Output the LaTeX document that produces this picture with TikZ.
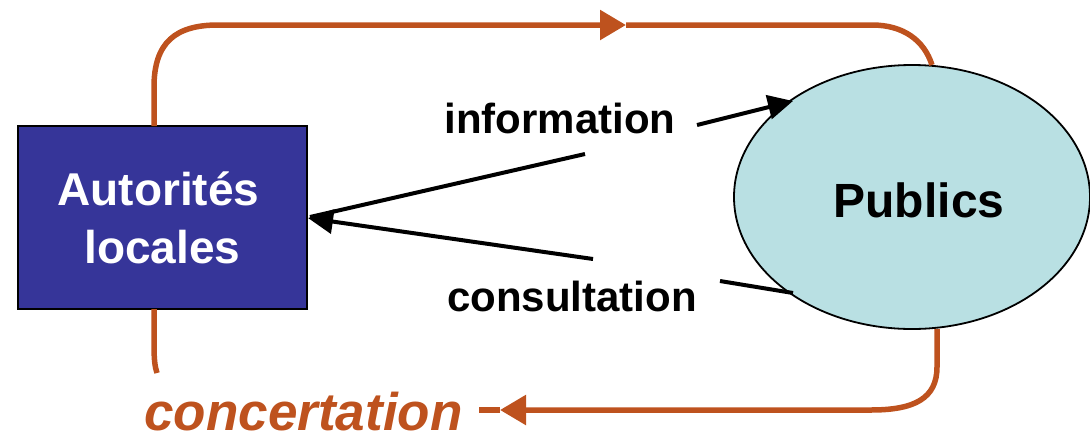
\documentclass[tikz,border=0pt]{standalone}
\usepackage{fontspec}
\setmainfont{Liberation Sans}
\usetikzlibrary{arrows.meta,shapes.geometric}
\definecolor{authblue}{RGB}{54,53,153}
\definecolor{pubcyan}{RGB}{185,224,227}
\definecolor{concorange}{RGB}{190,82,30}
\begin{document}
\begin{tikzpicture}[x=1pt,y=-1pt,
  authbox/.style={draw=black, line width=1.6pt, fill=authblue, minimum width=289pt, minimum height=183pt, inner sep=0pt, text=white, font=\bfseries\fontsize{46}{58}\selectfont, align=center},
  pubell/.style={ellipse, draw=black, line width=1.8pt, fill=pubcyan, minimum width=356pt, minimum height=264pt, inner sep=0pt},
  publbl/.style={font=\bfseries\fontsize{48}{58}\selectfont},
  flowlbl/.style={font=\bfseries\fontsize{42}{50}\selectfont, inner sep=0pt, anchor=base},
  conclbl/.style={font=\bfseries\itshape\fontsize{53}{60}\selectfont, text=concorange, anchor=base, inner sep=0pt},
  loopline/.style={draw=concorange, line width=5.5pt},
  looptip/.style={loopline, -{Triangle[length=26pt,width=29pt]}},
  flowline/.style={draw=black, line width=4pt},
  flowtip/.style={flowline, -{Triangle[length=25pt,width=24pt]}}
]
\useasboundingbox (0,0) rectangle (1090,437);

% nodes
\node[authbox] (auth) at (162.5,217.5) {Autorités\hspace*{8pt}\\locales};
\node[pubell, label={[publbl, xshift=7pt, yshift=-3pt]center:Publics}] (pub) at (912,197) {};
\node[flowlbl] (info) at (560,133) {information};
\node[flowlbl] (cons) at (572,311) {consultation};
\node[conclbl] (conc) at (303.5,430) {concertation};

% coordinates for connector ends
\coordinate (tA) at (154,126);
\coordinate (tM) at (626,25);
\coordinate (tB) at (932,65);
\coordinate (bA) at (937,329);
\coordinate (bM) at (500,410);
\coordinate (bE) at (479,410);
\coordinate (lA) at (154,309);
\coordinate (lE) at (157,373);
\coordinate (iA) at (697,125);
\coordinate (iB) at (793,101);
\coordinate (uA) at (585,154);
\coordinate (uB) at (310,217);
\coordinate (wA) at (593,259);
\coordinate (wB) at (308,218);
\coordinate (cA) at (720,281);
\coordinate (cB) at (793,293);

% orange loop (concertation)
\draw[looptip] (tA) -- (154,87) .. controls (154,42) and (176,25) .. (218,25) -- (tM);
\draw[loopline] (tM) -- (872,25) .. controls (903,25) and (924,40) .. (tB);
\draw[looptip] (bA) -- (937,367) .. controls (937,398) and (915,410) .. (871,410) -- (bM);
\draw[loopline] (bM) -- (bE);
\draw[loopline] (lA) -- (154,345) .. controls (154,360) and (155,367) .. (lE);

% black arrows
\draw[flowtip] (iA) -- (iB);
\draw[flowline] (uA) -- (uB);
\draw[flowtip] (wA) -- (wB);
\draw[flowline] (cA) -- (cB);
\end{tikzpicture}
\end{document}
